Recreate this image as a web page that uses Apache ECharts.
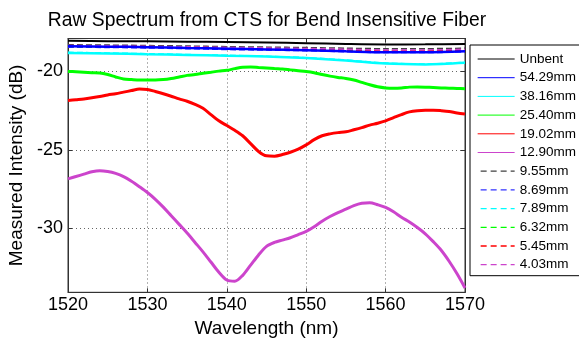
<!DOCTYPE html>
<html>
<head>
<meta charset="utf-8">
<script src="https://cdn.jsdelivr.net/npm/echarts@6/dist/echarts.min.js"></script>
<style>html,body{margin:0;padding:0;background:#fff;}#c{width:579px;height:339px;}</style>
</head>
<body>
<div id="c"></div>
<script>
// ---- data ----
const titleText = 'Raw Spectrum from CTS for Bend Insensitive Fiber';
const xTicks = [1520, 1530, 1540, 1550, 1560, 1570];
const yTicks = [-30, -25, -20];
const legendNames = ['Unbent','54.29mm','38.16mm','25.40mm','19.02mm','12.90mm','9.55mm','8.69mm','7.89mm','6.32mm','5.45mm','4.03mm'];

// fine wavelength grid (1 nm) for curved series
const wavelengthFine = [1520,1521,1522,1523,1524,1525,1526,1527,1528,1529,1530,1531,1532,1533,1534,1535,1536,1537,1538,1539,1540,1541,1542,1543,1544,1545,1546,1547,1548,1549,1550,1551,1552,1553,1554,1555,1556,1557,1558,1559,1560,1561,1562,1563,1564,1565,1566,1567,1568,1569,1570];
// coarse wavelength grid (5 nm) for flat series
const wavelengthCoarse = [1520,1525,1530,1535,1540,1545,1550,1555,1560,1565,1570];

const unbent   = [-18.05,-18.07,-18.08,-18.10,-18.12,-18.15,-18.20,-18.25,-18.28,-18.27,-18.25];
const r54_29   = [-18.40,-18.42,-18.45,-18.50,-18.55,-18.60,-18.65,-18.72,-18.78,-18.78,-18.72];
const r38_16   = [-18.82,-18.85,-18.90,-18.95,-19.00,-19.05,-19.15,-19.30,-19.50,-19.55,-19.45];
const r25_40   = [-20.00,-20.02,-20.05,-20.08,-20.10,-20.20,-20.35,-20.48,-20.52,-20.55,-20.55,-20.55,-20.52,-20.45,-20.35,-20.25,-20.20,-20.12,-20.05,-19.98,-19.93,-19.82,-19.73,-19.72,-19.75,-19.78,-19.82,-19.85,-19.90,-19.95,-20.00,-20.08,-20.20,-20.30,-20.38,-20.45,-20.55,-20.70,-20.85,-20.98,-21.05,-21.07,-21.05,-21.00,-20.99,-21.00,-21.02,-21.05,-21.07,-21.08,-21.10];
const r19_02   = [-21.85,-21.80,-21.75,-21.68,-21.60,-21.50,-21.42,-21.32,-21.22,-21.12,-21.15,-21.28,-21.42,-21.58,-21.75,-21.90,-22.10,-22.35,-22.75,-23.15,-23.45,-23.75,-24.10,-24.60,-25.10,-25.38,-25.40,-25.30,-25.15,-24.95,-24.68,-24.35,-24.10,-23.98,-23.90,-23.85,-23.72,-23.58,-23.42,-23.30,-23.15,-22.95,-22.75,-22.58,-22.50,-22.47,-22.47,-22.50,-22.55,-22.65,-22.72];
const r12_90   = [-26.85,-26.70,-26.55,-26.40,-26.33,-26.38,-26.50,-26.70,-27.00,-27.35,-27.72,-28.15,-28.65,-29.20,-29.75,-30.30,-30.90,-31.50,-32.15,-32.80,-33.30,-33.38,-33.00,-32.35,-31.70,-31.15,-30.90,-30.75,-30.60,-30.40,-30.20,-29.90,-29.55,-29.25,-29.00,-28.78,-28.55,-28.40,-28.37,-28.50,-28.67,-28.95,-29.30,-29.60,-29.95,-30.35,-30.85,-31.40,-32.10,-32.90,-33.80];
const r9_55    = [-18.30,-18.32,-18.35,-18.38,-18.42,-18.45,-18.48,-18.52,-18.55,-18.55,-18.52];
const r8_69    = [-18.45,-18.47,-18.50,-18.55,-18.60,-18.64,-18.68,-18.74,-18.80,-18.80,-18.75];
const r7_89    = [-18.78,-18.82,-18.87,-18.92,-18.97,-19.03,-19.12,-19.27,-19.46,-19.52,-19.42];
const r6_32    = [-18.40,-18.42,-18.44,-18.48,-18.52,-18.56,-18.60,-18.65,-18.70,-18.70,-18.66];
const r5_45    = [-18.38,-18.40,-18.42,-18.46,-18.50,-18.54,-18.58,-18.63,-18.68,-18.68,-18.64];
const r4_03    = [-18.35,-18.37,-18.40,-18.43,-18.47,-18.50,-18.54,-18.58,-18.63,-18.63,-18.58];

// ---- build ----
const zip = (xs, ys) => xs.map((x, i) => [x, ys[i]]);
const defs = [
  [wavelengthCoarse, unbent, '#000000', 'solid', 2],
  [wavelengthCoarse, r54_29, '#0000ff', 'solid', 2.5],
  [wavelengthCoarse, r38_16, '#00ffff', 'solid', 2.5],
  [wavelengthFine,   r25_40, '#00ff00', 'solid', 3],
  [wavelengthFine,   r19_02, '#ff0000', 'solid', 3],
  [wavelengthFine,   r12_90, '#cc44cc', 'solid', 3],
  [wavelengthCoarse, r9_55,  '#404040', 'dashed', 1.5],
  [wavelengthCoarse, r8_69,  '#3333ff', 'dashed', 1.5],
  [wavelengthCoarse, r7_89,  '#00ffff', 'dashed', 1.5],
  [wavelengthCoarse, r6_32,  '#00ff00', 'dashed', 1.5],
  [wavelengthCoarse, r5_45,  '#ff0000', 'dashed', 1.5],
  [wavelengthCoarse, r4_03,  '#cc44cc', 'dashed', 1.5]
];
const order = [0,6,7,9,10,11,2,8,1,3,4,5];
const FONT = '"Liberation Sans", Arial, sans-serif';
const series = defs.map((d, i) => ({
  name: legendNames[i],
  type: 'line',
  data: zip(d[0], d[1]),
  smooth: 0.3,
  showSymbol: false,
  color: d[2],
  z: 2 + order.indexOf(i) * 0.01,
  lineStyle: { color: d[2], type: d[3], width: d[4] },
  emphasis: { disabled: true }
}));
const legendData = legendNames.map((n, i) => defs[i][3] === 'dashed'
  ? { name: n, lineStyle: { type: [6, 4], width: 1.3, dashOffset: -3 } }
  : { name: n });

const chart = echarts.init(document.getElementById('c'), null, { renderer: 'canvas' });
const axisLineStyle = { color: '#333', width: 1 };
const gridLine = { show: true, lineStyle: { color: '#666', type: [1, 3], width: 1 } };
chart.setOption({
  animation: false,
  backgroundColor: '#fff',
  title: {
    text: titleText, left: 262, top: 6, textAlign: 'center',
    textStyle: { fontFamily: FONT, fontSize: 19.3, fontWeight: 'normal', color: '#000' }
  },
  grid: { left: 68, right: 114, top: 38.5, bottom: 46.7, show: true, borderColor: '#333', borderWidth: 1, backgroundColor: 'transparent', outerBoundsMode: 'none', containLabel: false },
  legend: {
    orient: 'vertical', left: 470, top: 45,
    data: legendData,
    backgroundColor: '#fff', borderColor: '#000', borderWidth: 1,
    padding: [7, 5, 4, 7],
    itemWidth: 37, itemHeight: 14, itemGap: 4.7,
    lineStyle: { width: 1 },
    itemStyle: { opacity: 0 },
    textStyle: { fontFamily: FONT, fontSize: 13.5, color: '#000', lineHeight: 14 },
    selectedMode: false
  },
  xAxis: [{
    type: 'value', min: xTicks[0], max: xTicks[xTicks.length - 1], interval: 10,
    name: 'Wavelength (nm)', nameLocation: 'middle', nameGap: 25,
    nameTextStyle: { fontFamily: FONT, fontSize: 19, color: '#000' },
    axisLine: { show: true, lineStyle: axisLineStyle },
    axisTick: { show: true, inside: true, length: 4, lineStyle: axisLineStyle },
    axisLabel: { fontFamily: FONT, fontSize: 18, color: '#000', margin: 4, formatter: v => String(v) },
    splitLine: gridLine
  }, {
    type: 'value', position: 'top', min: xTicks[0], max: xTicks[xTicks.length - 1], interval: 10,
    axisLine: { show: true, lineStyle: axisLineStyle },
    axisTick: { show: true, inside: true, length: 4, lineStyle: axisLineStyle },
    axisLabel: { show: false }, splitLine: { show: false }
  }],
  yAxis: [{
    type: 'value', min: -34.08, max: -17.9,
    name: 'Measured Intensity (dB)', nameLocation: 'middle', nameGap: 37,
    nameTextStyle: { fontFamily: FONT, fontSize: 19, color: '#000' },
    axisLine: { show: true, lineStyle: axisLineStyle },
    axisTick: { show: true, inside: true, length: 4, lineStyle: axisLineStyle, customValues: yTicks },
    axisLabel: { fontFamily: FONT, fontSize: 18, color: '#000', margin: 5, customValues: yTicks },
    splitLine: gridLine
  }, {
    type: 'value', position: 'right', min: -34.08, max: -17.9,
    axisLine: { show: true, lineStyle: axisLineStyle },
    axisTick: { show: true, inside: true, length: 4, lineStyle: axisLineStyle, customValues: yTicks },
    axisLabel: { show: false, customValues: yTicks }, splitLine: { show: false }
  }],
  series: series
});
</script>
</body>
</html>
